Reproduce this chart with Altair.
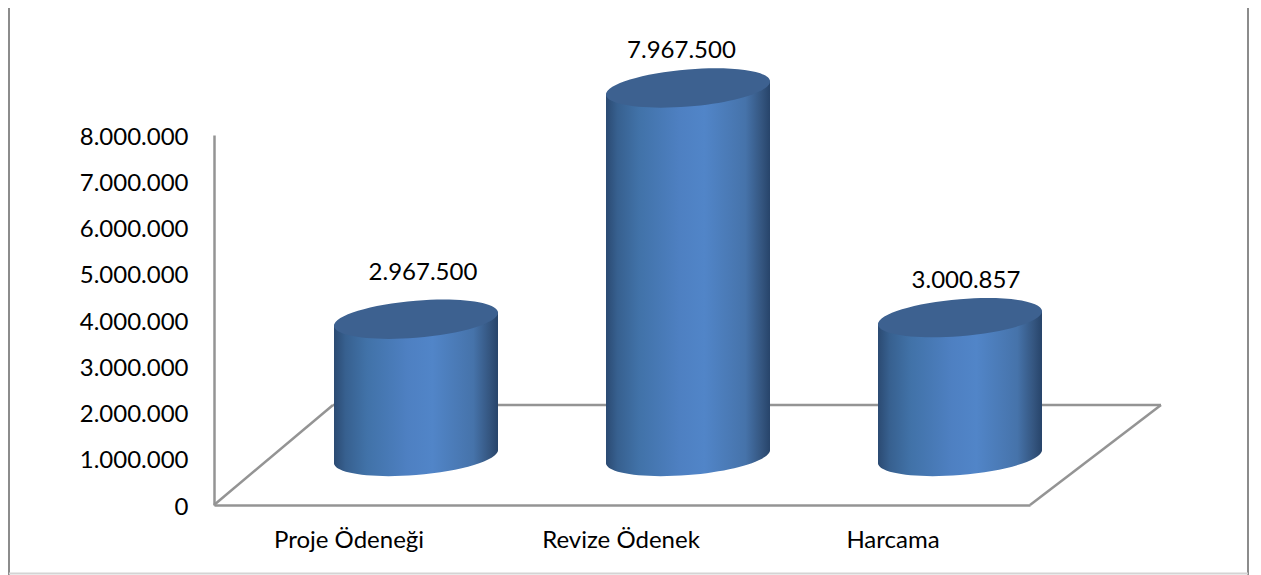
import altair as alt
import pandas as pd

CATEGORIES = ["Proje Ödeneği", "Revize Ödenek", "Harcama"]
VALUES = [2967500, 7967500, 3000857]
Y_TICKS = [0, 1000000, 2000000, 3000000, 4000000, 5000000, 6000000, 7000000, 8000000]

FONT = "Lato"
FS = 24
GREY = "#949494"
W, H = 816, 370
PL, PT = 206, 127

df = pd.DataFrame({"cat": CATEGORIES, "value": VALUES})
DOT = "replace(format(%s, ','), /,/g, '.')"

x_axis = alt.Axis(labelAngle=0, ticks=False, domainColor=GREY, domainWidth=2.5,
                  labelFont=FONT, labelFontSize=FS, labelColor="#000000",
                  labelPadding=23, labelOffset=-1, grid=False)
y_axis = alt.Axis(values=Y_TICKS, ticks=False, domainColor=GREY, domainWidth=2.5,
                  labelFont=FONT, labelFontSize=FS, labelColor="#000000",
                  labelPadding=26, labelOffset=2, grid=False,
                  labelExpr=DOT % "datum.value")
y_scale = alt.Scale(domain=[0, 8000000], nice=False, clamp=False)
x = alt.X("cat:N", sort=CATEGORIES, scale=alt.Scale(paddingInner=0, paddingOuter=0),
          title=None, axis=x_axis)
y = alt.Y("value:Q", scale=y_scale, title=None, axis=y_axis)
base_y = alt.Y("zero:Q", scale=y_scale, title=None, axis=y_axis)

side = alt.Gradient(
    gradient="linear", x1=0, y1=0, x2=1, y2=0,
    stops=[
        alt.GradientStop(offset=0.0, color="#2b4a72"),
        alt.GradientStop(offset=0.07, color="#37608f"),
        alt.GradientStop(offset=0.2, color="#4172a8"),
        alt.GradientStop(offset=0.45, color="#4e80c2"),
        alt.GradientStop(offset=0.6, color="#5185c8"),
        alt.GradientStop(offset=0.85, color="#4673aa"),
        alt.GradientStop(offset=0.95, color="#34557f"),
        alt.GradientStop(offset=1.0, color="#27446a"),
    ],
)


def ellipse_path(ax=1.0, ay=-0.08, by=0.2256, k=0.5523):
    A = (ax, ay)
    B = (0.0, by)
    def p(u, v):
        return f"{A[0]*u + B[0]*v:.4f} {A[1]*u + B[1]*v:.4f}"
    return (f"M{p(1,0)} C{p(1,k)} {p(k,1)} {p(0,1)} C{p(-k,1)} {p(-1,k)} {p(-1,0)} "
            f"C{p(-1,-k)} {p(-k,-1)} {p(0,-1)} C{p(k,-1)} {p(1,-k)} {p(1,0)} Z")


PATH = ellipse_path()
CYL_W = 164
CYL_X = 66
CYL_Y = -48.5
TILT = 6.5


def seg(x1, y1, x2, y2, color=GREY, width=2.5):
    return alt.Chart(pd.DataFrame({"a": [0]})).mark_rule(color=color, strokeWidth=width).encode(
        x=alt.value(x1), y=alt.value(y1), x2=alt.value(x2), y2=alt.value(y2))


frame = [
    seg(PL * -1 + 1, -127, PL * -1 + 1, 440, "#8c8c8c", 2),
    seg(1034, -127, 1034, 440, "#8c8c8c", 2),
    seg(-205, 438.5, 1034, 438.5, "#d4d4d4", 2),
]
floor = [
    seg(0, H, 119, 270),
    seg(119, 270, 947, 270),
    seg(947, 270, 816, H),
]

axes = alt.Chart(df).mark_point(opacity=0).encode(x=x, y=y)


def cap(offset, fill, enc_y, zero=False):
    base = alt.Chart(df)
    if zero:
        base = base.transform_calculate(zero="0")
    return base.mark_point(
        shape=PATH, size=CYL_W ** 2, filled=True, fill=fill, opacity=1, strokeWidth=0,
        xOffset=CYL_X, yOffset=CYL_Y + offset, clip=False).encode(x=x, y=enc_y)


# The round ends are swept a few pixels along the body so the tilted rim meets the straight sides.
bottoms = [cap(-d, side, base_y, zero=True) for d in range(0, 14)]
upper = [cap(d, side, y) for d in range(1, 14)]

bars = alt.Chart(df).transform_calculate(zero="0").mark_bar(
    width=CYL_W, fill=side, opacity=1, strokeWidth=0,
    xOffset=CYL_X, yOffset=CYL_Y + TILT, y2Offset=CYL_Y - TILT, clip=False).encode(
    x=x, y=y, y2=alt.Y2("zero:Q"))

tops = cap(0, "#3d6190", y)


def label(cat, dx, dy):
    return alt.Chart(df).transform_filter(alt.datum.cat == cat).transform_calculate(
        txt=DOT % "datum.value").mark_text(
        font=FONT, fontSize=FS, color="#000000", dx=dx, dy=dy, baseline="middle", align="center"
    ).encode(x=x, y=y, text="txt:N")


labels = [label(CATEGORIES[0], 73, -94.75), label(CATEGORIES[1], 59.5, -86), label(CATEGORIES[2], 72, -85.7)]

chart = alt.layer(*frame, *floor, axes, *bottoms, *upper, bars, tops, *labels).properties(
    width=W, height=H,
    padding={"left": PL, "top": PT, "right": 223, "bottom": 70},
    autosize=alt.AutoSizeParams(type="none"),
    background="#ffffff",
).configure_view(stroke=None)

chart.save("out.html", embed_options={"renderer": "svg", "actions": False})
